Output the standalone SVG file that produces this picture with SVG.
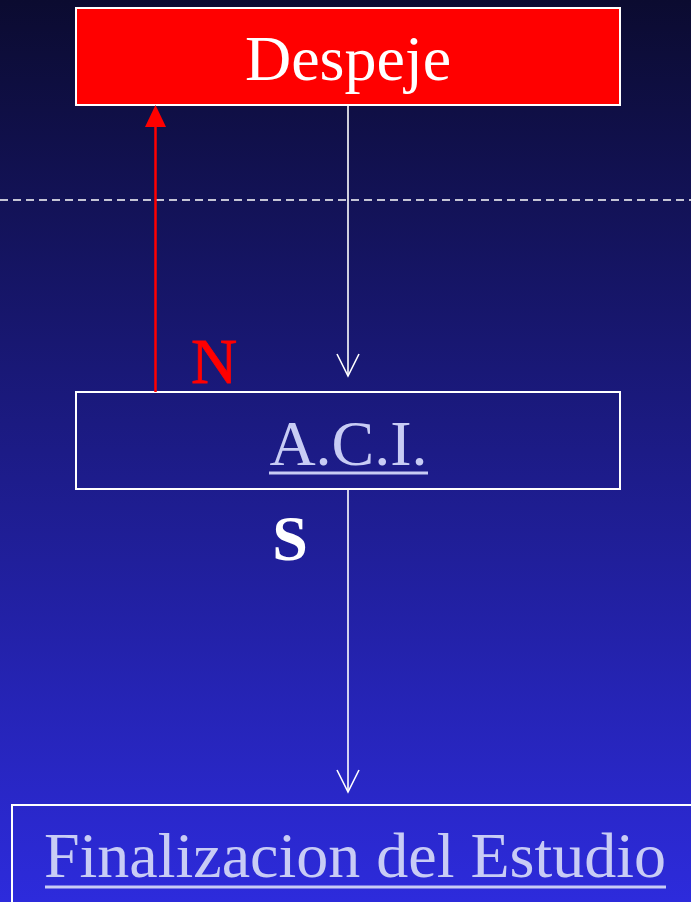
<svg xmlns="http://www.w3.org/2000/svg" width="691" height="902" viewBox="0 0 691 902">
<defs>
<linearGradient id="bg" x1="0" y1="0" x2="0" y2="1">
<stop offset="0" stop-color="#0b0b30"/>
<stop offset="1" stop-color="#2d2bdc"/>
</linearGradient>
<style>
.box{fill:none;stroke:#ffffff;stroke-width:2}
.t{font-family:"Liberation Serif","Times New Roman",serif;font-size:64px;text-anchor:middle}
.link{fill:#c8ccf5}
.wline{stroke:#ffffff;stroke-width:1.6;fill:none}
</style>
</defs>
<rect x="0" y="0" width="691" height="902" fill="url(#bg)"/>
<line x1="0" y1="200" x2="691" y2="200" stroke="#ffffff" stroke-width="1.6" stroke-dasharray="8,5"/>
<g id="despeje">
<rect x="76" y="8" width="544" height="97" fill="#ff0000" stroke="#ffffff" stroke-width="2"/>
<text class="t" x="348" y="80" fill="#ffffff">Despeje</text>
</g>
<g id="aci">
<rect class="box" x="76" y="392" width="544" height="97"/>
<text class="t link" x="348.5" y="465">A.C.I.</text>
<rect x="269" y="471.5" width="159" height="3" fill="#c8ccf5"/>
</g>
<g id="final">
<rect class="box" x="12" y="805" width="700" height="120"/>
<text class="t link" x="355" y="877">Finalizacion del Estudio</text>
<rect x="45" y="885.5" width="621" height="3" fill="#c8ccf5"/>
</g>
<g id="connectors">
<line class="wline" x1="348" y1="105" x2="348" y2="376"/>
<polyline class="wline" points="337,354 348,376 359,354"/>
<line class="wline" x1="348" y1="488" x2="348" y2="792"/>
<polyline class="wline" points="337,770 348,792 359,770"/>
<line x1="155.5" y1="392" x2="155.5" y2="124" stroke="#ff0000" stroke-width="2.5"/>
<polygon points="155.5,105 145,127 166,127" fill="#ff0000"/>
<text class="t" x="214" y="383" fill="#ff0000" font-size="62" stroke="#ff0000" stroke-width="0.8">N</text>
<text class="t" x="290" y="560" fill="#ffffff" font-weight="bold" font-size="58">S</text>
</g>
</svg>
